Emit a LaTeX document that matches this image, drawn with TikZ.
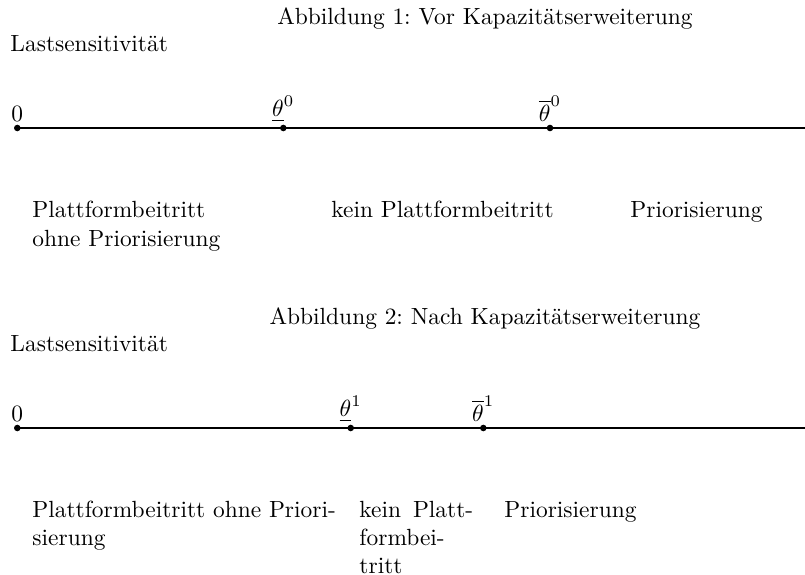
\documentclass[tikz,border=0pt]{standalone}
\usepackage{fontspec}
\frenchspacing
\newcommand{\toplines}[1]{\begin{tabular}[t]{@{}l@{}}#1\end{tabular}}
\begin{document}
\begin{tikzpicture}[x=0.4272pt, y=-0.4272pt,
  axisline/.style={line width=0.85pt},
  dotmark/.style={fill=black},
  ptlabel/.style={anchor=south, inner sep=2.6pt},
  plaintext/.style={anchor=base west, inner sep=0pt},
  titletext/.style={anchor=base, inner sep=0pt}]
\useasboundingbox (0,0) rectangle (805,575);
% ---------------- Abbildung 1 ----------------
\node[titletext] (t1) at (485,25) {Abbildung 1: Vor Kapazitätserweiterung};
\node[plaintext] (y1) at (10,52) {Lastsensitivität};
\coordinate (a0) at (17.3,128);
\coordinate (a1) at (283.3,128);
\coordinate (a2) at (550,128);
\coordinate (aend) at (810,128);
\draw[axisline] (a0) -- (aend);
\foreach \p in {a0,a1,a2} \fill[dotmark] (\p) circle (1.4pt);
\node[ptlabel] (la0) at (a0) {$0$};
\node[ptlabel] (la1) at (a1) {$\underline{\theta}^0$};
\node[ptlabel] (la2) at (a2) {$\overline{\theta}^0$};
\node[plaintext] (r11) at (32,218) {\toplines{Plattformbeitritt\\ohne Priorisierung}};
\node[plaintext] (r12) at (331,218) {kein Plattformbeitritt};
\node[plaintext] (r13) at (630,218) {Priorisierung};
% ---------------- Abbildung 2 ----------------
\node[titletext] (t2) at (485,324.5) {Abbildung 2: Nach Kapazitätserweiterung};
\node[plaintext] (y2) at (10,351.5) {Lastsensitivität};
\coordinate (b0) at (17.3,428);
\coordinate (b1) at (350.7,428);
\coordinate (b2) at (483.3,428);
\coordinate (bend) at (810,428);
\draw[axisline] (b0) -- (bend);
\foreach \p in {b0,b1,b2} \fill[dotmark] (\p) circle (1.4pt);
\node[ptlabel] (lb0) at (b0) {$0$};
\node[ptlabel] (lb1) at (b1) {$\underline{\theta}^1$};
\node[ptlabel] (lb2) at (b2) {$\overline{\theta}^1$};
\node[plaintext] (r21) at (32,517) {\toplines{Plattformbeitritt ohne Priori-\\sierung}};
\node[plaintext] (r22) at (359,517) {\toplines{kein\hspace{5.1pt}Platt-\\formbei-\\tritt}};
\node[plaintext] (r23) at (504,517) {Priorisierung};
\end{tikzpicture}
\end{document}
